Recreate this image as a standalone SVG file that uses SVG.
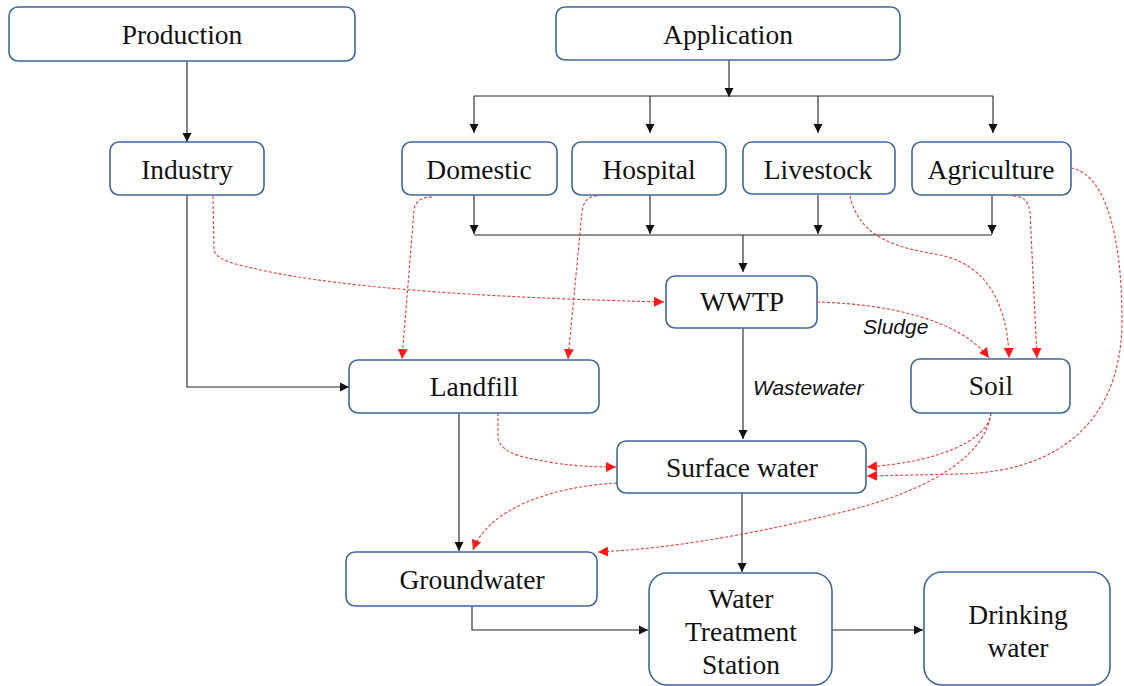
<svg xmlns="http://www.w3.org/2000/svg" width="1124" height="686" viewBox="0 0 1124 686">
<defs>
<style>
.box{fill:#fff;stroke:#41669a;stroke-width:1.6}
.t{font-family:"Liberation Serif","Times New Roman",serif;font-size:27.5px;fill:#111;text-anchor:middle}
.lbl{font-family:"Liberation Sans",Arial,sans-serif;font-size:21px;font-style:italic;fill:#111}
.k{fill:none;stroke:#222;stroke-width:1.1}
.r{fill:none;stroke:#e8393a;stroke-width:1.1;stroke-dasharray:3 2}
</style>
<marker id="ak" viewBox="0 0 10 10" refX="10" refY="5" markerUnits="userSpaceOnUse" markerWidth="9" markerHeight="10" orient="auto"><path d="M0,0 L10,5 L0,10 z" fill="#111"/></marker>
<marker id="ar" viewBox="0 0 10 10" refX="10" refY="5" markerUnits="userSpaceOnUse" markerWidth="10" markerHeight="10" orient="auto"><path d="M0,0 L10,5 L0,10 z" fill="#ff1a1a"/></marker>
</defs>
<rect width="1124" height="686" fill="#fff"/>
<g id="connectors">
<path class="k" d="M187 61 V142" marker-end="url(#ak)"/>
<path class="k" d="M729 60 V97" marker-end="url(#ak)"/>
<path class="k" d="M474 96 H993"/>
<path class="k" d="M474 96 V133" marker-end="url(#ak)"/>
<path class="k" d="M650 96 V133" marker-end="url(#ak)"/>
<path class="k" d="M818 96 V133" marker-end="url(#ak)"/>
<path class="k" d="M993 96 V133" marker-end="url(#ak)"/>
<path class="k" d="M474 195 V234" marker-end="url(#ak)"/>
<path class="k" d="M650 195 V234" marker-end="url(#ak)"/>
<path class="k" d="M818 195 V234" marker-end="url(#ak)"/>
<path class="k" d="M992 195 V234" marker-end="url(#ak)"/>
<path class="k" d="M474 235 H992"/>
<path class="k" d="M743 235 V272" marker-end="url(#ak)"/>
<path class="k" d="M187 195 V387 H349" marker-end="url(#ak)"/>
<path class="k" d="M743 328 V439" marker-end="url(#ak)"/>
<path class="k" d="M459 413 V551" marker-end="url(#ak)"/>
<path class="k" d="M742 493 V572" marker-end="url(#ak)"/>
<path class="k" d="M472 606 V630 H648" marker-end="url(#ak)"/>
<path class="k" d="M832 630 H923" marker-end="url(#ak)"/>
<path class="r" d="M213 196 L214 250 Q216 258 232 263 C300 282 420 296 664 302" marker-end="url(#ar)"/>
<path class="r" d="M432 197 Q416 197 414 210 L402 359" marker-end="url(#ar)"/>
<path class="r" d="M597 196 Q584 196 582 212 L568 359" marker-end="url(#ar)"/>
<path class="r" d="M850 196 C860 240 900 248 940 255 C990 265 1008 310 1009 358" marker-end="url(#ar)"/>
<path class="r" d="M1013 196 Q1028 196 1030 212 L1037 358" marker-end="url(#ar)"/>
<path class="r" d="M1071 168 C1110 175 1122 250 1122 320 C1122 420 1060 472 960 474 L867 476" marker-end="url(#ar)"/>
<path class="r" d="M991 413 C988 440 940 462 867 467" marker-end="url(#ar)"/>
<path class="r" d="M991 413 C985 460 920 495 830 515 C760 532 680 548 598 552" marker-end="url(#ar)"/>
<path class="r" d="M817 302 C890 304 960 320 989 358" marker-end="url(#ar)"/>
<path class="r" d="M498 413 L498 438 Q500 450 520 456 C560 466 590 467 616 467" marker-end="url(#ar)"/>
<path class="r" d="M617 483 C560 486 490 505 473 550" marker-end="url(#ar)"/>
</g>
<g id="production"><rect class="box" x="9" y="7" width="346" height="54" rx="9"/><text class="t" x="182" y="44">Production</text></g>
<g id="application"><rect class="box" x="556" y="7" width="344" height="53" rx="9"/><text class="t" x="728" y="44">Application</text></g>
<g id="industry"><rect class="box" x="110" y="142" width="154" height="53" rx="9"/><text class="t" x="187" y="179">Industry</text></g>
<g id="domestic"><rect class="box" x="402" y="142" width="155" height="53" rx="9"/><text class="t" x="479" y="179">Domestic</text></g>
<g id="hospital"><rect class="box" x="572" y="142" width="154" height="53" rx="9"/><text class="t" x="649" y="179">Hospital</text></g>
<g id="livestock"><rect class="box" x="743" y="142" width="152" height="52" rx="9"/><text class="t" x="818" y="179">Livestock</text></g>
<g id="agriculture"><rect class="box" x="912" y="142" width="159" height="53" rx="9"/><text class="t" x="991" y="179">Agriculture</text></g>
<g id="wwtp"><rect class="box" x="666" y="276" width="151" height="52" rx="9"/><text class="t" x="742" y="311">WWTP</text></g>
<g id="landfill"><rect class="box" x="349" y="360" width="250" height="53" rx="9"/><text class="t" x="474" y="396">Landfill</text></g>
<g id="soil"><rect class="box" x="911" y="359" width="159" height="54" rx="9"/><text class="t" x="991" y="395">Soil</text></g>
<g id="surface-water"><rect class="box" x="617" y="441" width="249" height="52" rx="9"/><text class="t" x="742" y="477">Surface water</text></g>
<g id="groundwater"><rect class="box" x="346" y="552" width="251" height="54" rx="9"/><text class="t" x="472" y="589">Groundwater</text></g>
<g id="water-treatment-station"><rect class="box" x="649" y="573" width="183" height="112" rx="18"/><text class="t" x="741" y="608">Water</text><text class="t" x="741" y="641">Treatment</text><text class="t" x="741" y="674">Station</text></g>
<g id="drinking-water"><rect class="box" x="924" y="572" width="186" height="113" rx="18"/><text class="t" x="1018" y="624">Drinking</text><text class="t" x="1018" y="657">water</text></g>
<g id="labels"><text class="lbl" x="863" y="334">Sludge</text><text class="lbl" x="753" y="395">Wastewater</text></g>
</svg>
